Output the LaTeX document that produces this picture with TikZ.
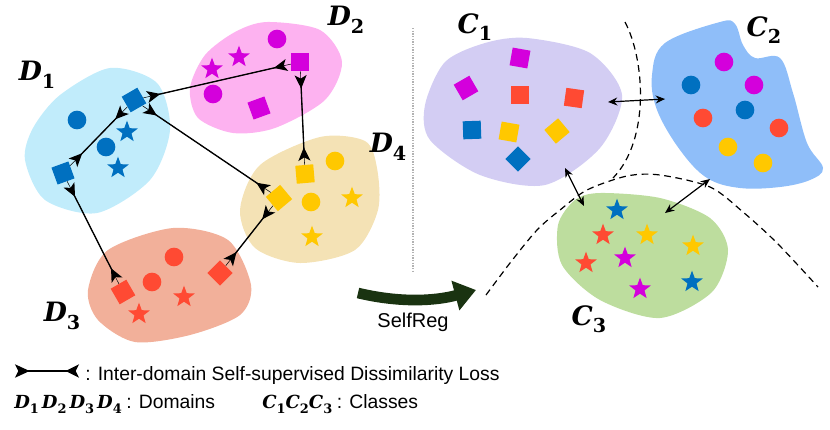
\documentclass[tikz,border=0pt]{standalone}
\usepackage{amsmath}
\usepackage{amssymb}
\usepackage{graphicx}
\usepackage[no-math]{fontspec}
\usepackage{tikz}
\usetikzlibrary{arrows.meta,shapes.geometric,positioning}
\newfontfamily\arialfont{Liberation Sans}
\newfontfamily\labfont{DejaVu Serif}
\newcommand\legfont{\arialfont\fontsize{14.5}{17}\selectfont}
% bold italic letter with a bold subscript digit
\newcommand\lab[2]{{\labfont\bfseries\itshape #1}\raisebox{-0.28em}{\scalebox{0.72}{\labfont\bfseries #2}}}
\definecolor{blu}{HTML}{0070C0}
\definecolor{mag}{HTML}{D400DC}
\definecolor{rd}{HTML}{FF4A33}
\definecolor{ylw}{HTML}{FFC800}
\definecolor{d1col}{HTML}{C1ECFB}
\definecolor{d2col}{HTML}{FDB2F0}
\definecolor{d3col}{HTML}{F2B09A}
\definecolor{d4col}{HTML}{F4E2B5}
\definecolor{c1col}{HTML}{D3CDF3}
\definecolor{c2col}{HTML}{8FBEF9}
\definecolor{c3col}{HTML}{BDDD9E}
\definecolor{srgreen}{HTML}{1A3311}

\begin{document}
\begin{tikzpicture}[x=0.75pt,y=0.75pt]
    \tikzstyle{every node}+=[inner sep=0pt]
    \tikzstyle{sq}=[rectangle, minimum size=13.5pt]
    \tikzstyle{dot}=[circle, minimum size=14pt]
    \tikzstyle{st}=[star, star points=5, star point ratio=2.4, minimum size=17pt]
    \tikzstyle{lbl}=[font=\fontsize{20}{24}\selectfont]
    \tikzstyle{loss}=[black, line width=1pt,
        {Stealth[reversed,length=10pt,width=9pt,inset=2.5pt]}-{Stealth[reversed,length=10pt,width=9pt,inset=2.5pt]},
        shorten <=3pt, shorten >=3pt,
        preaction={draw, -, shorten <=0pt, shorten >=0pt}]
    \tikzstyle{legloss}=[black, line width=1pt,
        {Stealth[reversed,length=11pt,width=10pt,inset=2.5pt]}-{Stealth[reversed,length=10pt,width=10pt,inset=2.5pt]}]
    \tikzstyle{pull}=[black, line width=0.9pt, {Stealth[length=7pt,width=6pt]}-{Stealth[length=7pt,width=6pt]}]
    \tikzstyle{bound}=[black, line width=0.9pt, dash pattern=on 5pt off 3.5pt]
    \useasboundingbox (0,0) rectangle (830,-429);

    % domains
    \fill [d1col] plot [smooth cycle] coordinates {(110,-68) (157,-83) (170,-130) (150,-180) (97,-213) (45,-200) (25,-160) (33,-128) (60,-95)};
    \fill [d2col] plot [smooth cycle] coordinates {(267,-22) (320,-30) (342,-62) (325,-100) (275,-128) (233,-133) (198,-118) (190,-88) (205,-55) (235,-32)};
    \fill [d4col] plot [smooth cycle] coordinates {(320,-137) (365,-141) (377,-168) (378,-210) (355,-250) (300,-263) (255,-248) (240,-210) (260,-165)};
    \fill [d3col] plot [smooth cycle] coordinates {(173,-228) (228,-240) (251,-285) (240,-315) (190,-335) (135,-342) (98,-320) (88,-290) (108,-250)};

    \node (d1c1) [dot, fill=blu] at (77,-120) {};
    \node (d1c2) [dot, fill=blu] at (106,-147) {};
    \node (d1s1) [st, fill=blu] at (127,-132) {};
    \node (d1s2) [st, fill=blu] at (118,-168) {};
    \node (d1q1) [sq, fill=blu, rotate=30] at (134,-100) {};
    \node (d1q2) [sq, fill=blu, rotate=20] at (63,-173) {};

    \node (d2c1) [dot, fill=mag] at (277,-39) {};
    \node (d2s1) [st, fill=mag] at (239,-57) {};
    \node (d2s2) [st, fill=mag] at (212,-69) {};
    \node (d2q1) [sq, fill=mag] at (300,-62) {};
    \node (d2c2) [dot, fill=mag] at (213,-94) {};
    \node (d2q2) [sq, fill=mag, rotate=20] at (259,-108) {};

    \node (d4q1) [sq, fill=ylw, rotate=5] at (305,-174) {};
    \node (d4c1) [dot, fill=ylw] at (335,-161) {};
    \node (d4q2) [sq, fill=ylw, rotate=40, minimum size=14pt] at (279,-198) {};
    \node (d4c2) [dot, fill=ylw] at (311,-202) {};
    \node (d4s1) [st, fill=ylw] at (352,-198) {};
    \node (d4s2) [st, fill=ylw] at (312,-237) {};

    \node (d3c1) [dot, fill=rd] at (174,-257) {};
    \node (d3c2) [dot, fill=rd] at (152,-282) {};
    \node (d3q1) [sq, fill=rd, rotate=30] at (123,-292) {};
    \node (d3s1) [st, fill=rd] at (184,-297) {};
    \node (d3s2) [st, fill=rd] at (139,-314) {};
    \node (d3q2) [sq, fill=rd, rotate=45] at (220,-273) {};

    \draw [loss] (d1q1) -- (d2q1);
    \draw [loss] (d1q1) -- (d1q2);
    \draw [loss] (d1q1) -- (d4q2);
    \draw [loss] (d2q1) -- (d4q1);
    \draw [loss] (d1q2) -- (d3q1);
    \draw [loss] (d4q2) -- (d3q2);

    \node (labD1) [lbl] at (37,-75) {\lab{D}{1}};
    \node (labD2) [lbl] at (346,-20) {\lab{D}{2}};
    \node (labD4) [lbl] at (388,-147) {\lab{D}{4}};
    \node (labD3) [lbl] at (62,-316) {\lab{D}{3}};

    % separator and SelfReg
    \coordinate (sepT) at (413,-28);
    \coordinate (sepB) at (413,-272);
    \draw [gray!60, line width=1pt, densely dotted] (sepT) -- (sepB);
    \coordinate (sra) at (358,-293);
    \coordinate (srb) at (476,-290);
    \draw [srgreen, line width=8pt, -{Triangle[length=16pt,width=22pt]}] (sra) .. controls (400,-303) and (435,-301) .. (srb);
    \node (srtext) [font=\arialfont\fontsize{15}{18}\selectfont] at (413,-322) {SelfReg};

    % classes
    \fill [c1col] plot [smooth cycle] coordinates {(527,-38) (590,-53) (622,-95) (600,-148) (545,-185) (480,-175) (430,-140) (425,-105) (445,-62) (485,-43)};
    \fill [c2col] plot [smooth cycle, tension=0.6] coordinates {(665,-43) (720,-22) (735,-24) (743,-45) (755,-58) (780,-58) (793,-93) (807,-143) (823,-168) (810,-180) (780,-187) (740,-188) (707,-178) (680,-150) (657,-110) (652,-75)};
    \fill [c3col] plot [smooth cycle] coordinates {(600,-193) (660,-198) (710,-218) (728,-250) (712,-292) (660,-318) (600,-300) (562,-265) (558,-225) (575,-200)};

    \draw [bound] (625,-22) .. controls (645,-60) and (650,-140) .. (613,-178);
    \draw [bound] plot [smooth] coordinates {(486,-295) (510,-263) (537,-230) (560,-210) (587,-190) (627,-176) (660,-175) (710,-187) (743,-212) (777,-243) (818,-287)};

    \node (c1q1) [sq, fill=mag, rotate=-10] at (520,-58) {};
    \node (c1q2) [sq, fill=mag, rotate=30] at (466,-88) {};
    \node (c1q3) [sq, fill=rd] at (520,-95) {};
    \node (c1q4) [sq, fill=rd, rotate=-8] at (574,-98) {};
    \node (c1q5) [sq, fill=blu, rotate=2] at (472,-130) {};
    \node (c1q6) [sq, fill=ylw, rotate=-10] at (509,-132) {};
    \node (c1q7) [sq, fill=ylw, rotate=40] at (557,-131) {};
    \node (c1q8) [sq, fill=blu, rotate=45] at (518,-159) {};

    \node (c2c1) [dot, fill=mag] at (724,-62) {};
    \node (c2c2) [dot, fill=blu] at (691,-85) {};
    \node (c2c3) [dot, fill=mag] at (754,-85) {};
    \node (c2c4) [dot, fill=rd] at (703,-118) {};
    \node (c2c5) [dot, fill=blu] at (745,-110) {};
    \node (c2c6) [dot, fill=rd] at (779,-128) {};
    \node (c2c7) [dot, fill=ylw] at (728,-147) {};
    \node (c2c8) [dot, fill=ylw] at (763,-163) {};

    \node (c3s1) [st, fill=blu] at (617,-210) {};
    \node (c3s2) [st, fill=rd] at (603,-235) {};
    \node (c3s3) [st, fill=ylw] at (647,-235) {};
    \node (c3s4) [st, fill=ylw] at (693,-246) {};
    \node (c3s5) [st, fill=mag] at (625,-258) {};
    \node (c3s6) [st, fill=rd] at (586,-263) {};
    \node (c3s7) [st, fill=mag] at (640,-289) {};
    \node (c3s8) [st, fill=blu] at (692,-282) {};

    \coordinate (c1e) at (608,-102);
    \coordinate (c2w) at (665,-99);
    \coordinate (c1s) at (565,-168);
    \coordinate (c3n) at (584,-206);
    \coordinate (c2s) at (710,-179);
    \coordinate (c3e) at (665,-213);
    \draw [pull] (c1e) -- (c2w);
    \draw [pull] (c1s) -- (c3n);
    \draw [pull] (c2s) -- (c3e);

    \node (labC1) [lbl] at (475,-27) {\lab{C}{1}};
    \node (labC2) [lbl] at (764,-30) {\lab{C}{2}};
    \node (labC3) [lbl] at (589,-319) {\lab{C}{3}};

    % legend
    \coordinate (lega) at (15,-371);
    \coordinate (legb) at (79,-371);
    \draw [legloss] (lega) -- (legb);
    \node (legtxt) [anchor=base west, font=\legfont] at (85,-380) {: Inter-domain Self-supervised Dissimilarity Loss};
    \node (legD) [anchor=base west, font=\fontsize{13.5}{16}\selectfont] at (14,-408) {\lab{D}{1}\,\lab{D}{2}\,\lab{D}{3}\,\lab{D}{4}};
    \node (legDom) [anchor=base west, font=\legfont, xshift=3pt] at (legD.base east) {: Domains};
    \node (legC) [anchor=base west, font=\fontsize{13.5}{16}\selectfont] at (262,-408) {\lab{C}{1}\lab{C}{2}\lab{C}{3}};
    \node (legCls) [anchor=base west, font=\legfont, xshift=3pt] at (legC.base east) {: Classes};
\end{tikzpicture}
\end{document}
